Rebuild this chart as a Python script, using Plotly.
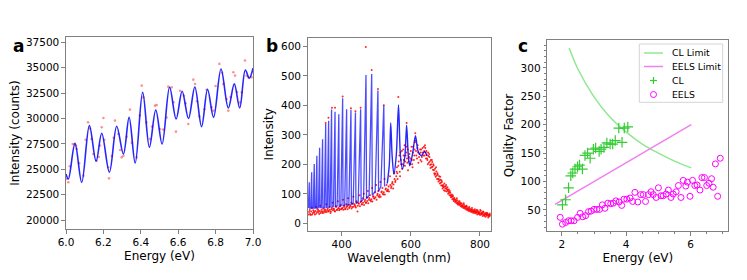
import plotly.graph_objects as go

# ---------------- Panel a data ----------------
a_fit_e = [6.0, 6.0125, 6.048, 6.084, 6.125, 6.161, 6.191, 6.232, 6.271, 6.307, 6.3375,
           6.37, 6.41, 6.446, 6.48, 6.514, 6.554, 6.589, 6.621, 6.655, 6.689, 6.725,
           6.757, 6.789, 6.829, 6.868, 6.9, 6.929, 6.959, 6.98, 7.0]
a_fit_i = [24530, 24040, 27550, 23710, 29290, 25780, 28540, 24700, 29230, 26500, 30110,
           25615, 32575, 27160, 30835, 27490, 33070, 29950, 32675, 29990, 33100, 29190,
           32870, 30110, 34870, 31030, 33400, 31030, 34775, 33955, 34940]
a_pts_e = [6.0036, 6.0125, 6.036, 6.053, 6.057, 6.093, 6.118, 6.137, 6.146, 6.164, 6.182,
           6.191, 6.200, 6.226, 6.230, 6.262, 6.280, 6.298, 6.307, 6.342, 6.378, 6.405,
           6.414, 6.449, 6.476, 6.485, 6.503, 6.538, 6.547, 6.565, 6.588, 6.610, 6.631,
           6.654, 6.681, 6.690, 6.713, 6.752, 6.779, 6.788, 6.820, 6.841, 6.859, 6.868,
           6.895, 6.904, 6.931, 6.940, 6.957, 6.975, 6.993,
           6.02, 6.045, 6.07, 6.105, 6.128, 6.175, 6.205, 6.245, 6.255, 6.29, 6.325, 6.352,
           6.395, 6.43, 6.46, 6.52, 6.575, 6.64, 6.70, 6.74, 6.80, 6.835, 6.88, 6.915, 6.965]
a_pts_i = [24040, 23720, 27490, 27330, 27000, 24370, 29625, 27980, 26500, 25850, 27330,
           29130, 30050, 25190, 24100, 29790, 28470, 26170, 26330, 30870, 26170, 33230,
           32080, 27980, 31260, 31330, 28960, 30100, 33130, 33060, 28700, 32730, 32240,
           29450, 33820, 33390, 30200, 32830, 31100, 30770, 35370, 33390, 31910, 30770,
           34550, 34220, 31580, 32570, 35700, 34060, 34060,
           25300, 27450, 25600, 27900, 29000, 26200, 27900, 26300, 28100, 26900, 28200, 27600,
           30300, 29600, 29200, 28900, 31600, 31500, 31700, 30900, 33200, 34500, 32100, 32600, 34200]

# ---------------- Panel b data ----------------
b_peak_wl = [306.5, 313.5, 321, 328.5, 336.5, 345, 354, 362.5, 371, 381, 392, 403,
             414.5, 427, 440, 455, 470.5, 487, 505, 522]
b_peak_h = [139, 173, 201, 229, 256, 285, 337, 348, 386, 378, 370, 424,
            387, 385, 376, 387, 503, 506, 450, 399]
b_peak_base = [52, 52, 52, 52, 53, 53, 54, 55, 56, 58, 58, 60,
               62, 64, 68, 73, 83, 95, 108, 125]
b_peak_left = [2.5, 2.8, 3.0, 3.2, 3.4, 3.6, 3.8, 4.0, 4.2, 4.6, 5.0, 5.2,
               5.6, 6.0, 6.6, 7.0, 7.0, 7.5, 8.0, 8.5]
b_peak_right = [0.8, 0.8, 0.8, 0.8, 0.9, 0.9, 0.9, 1.0, 1.0, 1.0, 1.1, 1.1,
                1.2, 1.3, 1.4, 1.5, 1.6, 1.7, 1.9, 2.2]
b_broad_wl = [532, 538, 542, 546, 551, 558, 564.5, 570, 576, 583, 588, 593, 597,
              605, 613.5, 621, 630.6, 636, 640, 647]
b_broad_i = [135, 200, 340, 230, 167, 230, 401, 230, 184, 230, 333, 225, 195,
             235, 297, 245, 229, 238, 243, 229]

b_pts_wl = [305, 308, 311, 314, 317, 320, 323, 326, 329, 332, 335, 338, 341, 344, 347, 350,
            353, 356, 359, 362, 365, 368, 371, 374, 377, 380, 383, 386, 389, 392, 395, 398,
            401, 404, 407, 410, 413, 416, 419, 422, 425, 428, 431, 434, 437, 440, 443, 446,
            449, 452, 455, 458, 461, 464, 467, 470, 473, 476, 479, 482, 485, 488, 491, 494,
            497, 500, 503, 506, 509, 512, 515, 518, 521, 524, 527, 530, 533, 536, 540, 543,
            546, 549, 552, 555, 558,
            306, 309, 312, 315, 318, 321, 324, 327, 330, 333, 336, 339, 342, 345, 348, 351,
            354, 357, 360, 363, 366, 369, 372, 375, 378, 381, 384, 387, 390, 393, 396, 399,
            402, 405, 408, 411, 414, 417, 420, 423, 426, 429, 432, 435, 438, 441, 444, 447,
            450, 453, 456, 459, 462, 465, 468, 471, 474, 477, 480, 483, 486, 489, 492, 495,
            498, 501, 504, 507, 510, 513, 516, 519, 522, 525, 528, 531, 534, 537, 541, 544,
            547, 550, 553, 556, 559,
            560, 562, 565, 568, 570, 572, 575, 578, 580, 583, 585, 588, 590, 592, 595, 598,
            600, 603, 605, 607, 610, 612, 615, 618, 620, 622, 625, 628, 630, 632, 635, 638,
            640, 642, 644,
            561, 564, 567, 569, 571, 574, 577, 579, 582, 584, 587, 589, 591, 594, 596, 599,
            602, 604, 606, 609, 611, 614, 616, 619, 621, 624, 627, 629, 631, 634, 636, 639,
            641, 643,
            646, 648, 650, 652, 654, 656, 658, 660, 662, 664, 666, 668, 670, 672, 674, 676,
            678, 680, 682, 684, 686, 688, 690, 692, 694, 696, 698, 700, 702, 704, 706, 708,
            710, 712, 714, 716, 718, 720, 722, 724, 726, 728, 730, 732, 734, 736, 738, 740,
            742, 744, 746, 748, 750, 752, 754, 756, 758, 760, 762, 764, 766, 768, 770, 772,
            774, 776, 778, 780, 782, 784, 786, 788, 790, 792, 794, 796, 798, 800, 802, 804,
            806, 808, 810, 812, 814, 816, 818, 820, 822, 824, 826, 828, 830,
            647, 651, 655, 659, 663, 667, 671, 675, 679, 683, 687, 691, 695, 699, 703, 707,
            711, 715, 719, 723, 727, 731, 735, 739, 743, 747, 751, 755, 759, 763, 767, 771,
            775, 779, 783, 787, 791, 795, 799, 803, 807, 811, 815, 819, 823, 827,
            645, 649, 653, 657, 661, 665, 669, 673, 677, 681, 685, 689, 693, 697, 701, 705,
            709, 713, 717, 721, 725, 729, 733, 737, 741, 745, 749, 753, 757, 761, 765, 769,
            773, 777, 781, 785, 789, 793, 797, 801, 805, 809, 813, 817, 821, 825, 829,
            470, 487, 505, 403, 564, 522, 588, 613, 372, 381, 362, 354, 455, 440, 427]
b_pts_i = [30, 45, 28, 52, 35, 40, 30, 55, 38, 45, 32, 60, 40, 35, 50, 42,
           38, 65, 45, 40, 55, 35, 48, 70, 50, 42, 58, 45, 75, 52, 48, 62,
           50, 80, 55, 48, 65, 58, 85, 52, 62, 70, 55, 90, 65, 58, 75, 40,
           68, 95, 72, 65, 85, 100, 75, 70, 88, 110, 80, 95, 75, 120, 90, 85,
           105, 130, 95, 110, 88, 140, 105, 120, 98, 150, 115, 130, 110, 125, 160, 120,
           135, 118, 170, 140, 160,
           38, 32, 40, 30, 44, 36, 42, 33, 48, 38, 42, 35, 46, 40, 36, 48,
           44, 38, 50, 42, 46, 40, 52, 44, 48, 40, 55, 46, 50, 44, 58, 48,
           52, 46, 60, 50, 55, 48, 62, 55, 58, 50, 66, 56, 62, 54, 70, 60,
           66, 58, 74, 64, 70, 62, 80, 70, 76, 68, 86, 78, 82, 74, 92, 84,
           88, 80, 100, 92, 96, 90, 108, 100, 105, 98, 118, 110, 115, 108, 130, 125,
           140, 132, 150, 145, 175,
           190, 150, 210, 175, 240, 200, 185, 250, 215, 195, 230, 260, 205, 180, 225, 200,
           245, 215, 190, 260, 230, 275, 245, 220, 265, 205, 235, 215, 250, 225, 240, 260,
           230, 255, 220,
           170, 195, 230, 160, 215, 245, 200, 230, 265, 210, 240, 220, 250, 210, 235, 220,
           260, 200, 240, 215, 250, 280, 230, 255, 240, 225, 250, 240, 210, 255, 230, 245,
           265, 240,
           232, 215, 240, 205, 225, 198, 215, 190, 208, 182, 196, 170, 185, 158, 176, 150,
           165, 142, 160, 135, 148, 128, 140, 118, 130, 112, 125, 118, 130, 108, 122, 100,
           115, 95, 104, 88, 98, 82, 92, 76, 86, 72, 80, 68, 78, 64, 74, 62,
           70, 58, 68, 55, 64, 52, 62, 50, 58, 47, 56, 44, 52, 42, 50, 40,
           48, 38, 46, 36, 44, 35, 42, 34, 45, 30, 40, 33, 38, 28, 42, 30,
           36, 25, 38, 28, 34, 22, 36, 26, 32, 20, 30, 24, 28,
           220, 228, 210, 200, 192, 180, 168, 162, 150, 145, 138, 128, 122, 110, 118, 112,
           104, 95, 90, 84, 80, 74, 70, 66, 64, 60, 57, 55, 52, 50, 47, 45,
           43, 41, 40, 38, 37, 36, 34, 33, 32, 31, 30, 29, 28, 27,
           245, 200, 235, 188, 215, 200, 165, 190, 170, 150, 158, 145, 125, 135, 125, 115,
           108, 110, 92, 95, 82, 76, 85, 68, 75, 66, 60, 68, 56, 60, 48, 55,
           45, 52, 42, 48, 40, 44, 32, 45, 35, 40, 26, 32, 35, 25, 33,
           598, 520, 455, 430, 428, 400, 340, 305, 392, 392, 358, 340, 392, 380, 390]

# ---------------- Panel c data ----------------
c_cl_lim_e = [2.23, 2.5, 3.0, 3.5, 4.0, 4.5, 5.0, 5.5, 6.02]
c_cl_lim_q = [335, 298, 249, 213, 187, 166, 150, 136, 124]
c_eels_lim_e = [1.79, 6.02]
c_eels_lim_q = [60, 200]
c_cl_e = [2.02, 2.12, 2.21, 2.28, 2.34, 2.41, 2.49, 2.55, 2.64, 2.72, 2.80, 2.88, 2.98,
          3.05, 3.16, 3.22, 3.31, 3.40, 3.50, 3.58, 3.66, 3.77, 3.87, 3.94, 4.05]
c_cl_q = [59, 68, 89, 110, 115, 122, 126, 129, 122, 146, 150, 141, 157,
          159, 153, 157, 160, 168, 166, 166, 172, 194, 169, 194, 196]
c_eels_e = [1.95, 2.02, 2.12, 2.21, 2.29, 2.38, 2.49, 2.57, 2.65, 2.74, 2.83, 2.91, 3.0,
            3.09, 3.17, 3.26, 3.34, 3.43, 3.52, 3.6, 3.68, 3.78, 3.86, 3.93, 4.02, 4.12,
            4.2, 4.27, 4.36, 4.45, 4.53, 4.6, 4.69, 4.77, 4.84, 4.93, 5.0, 5.08, 5.15,
            5.24, 5.31, 5.39, 5.46, 5.55, 5.62, 5.7, 5.77, 5.85, 5.9, 5.98, 6.06, 6.13,
            6.2, 6.29, 6.35, 6.43, 6.5, 6.57, 6.65, 6.7, 6.77, 6.84, 6.92]
c_eels_q = [37, 25, 28, 31, 31, 31, 37, 44, 38, 40, 47, 48, 51,
            51, 51, 59, 53, 62, 61, 62, 66, 64, 58, 69, 69, 71,
            65, 81, 64, 77, 77, 65, 77, 82, 77, 72, 89, 75, 75,
            78, 85, 72, 78, 82, 93, 72, 102, 92, 99, 74, 102, 93,
            94, 85, 107, 107, 93, 97, 105, 90, 131, 74, 141]

legend_labels = ["CL Limit", "EELS Limit", "CL", "EELS"]

FONT = "DejaVu Sans"
SPINE = "#808080"
GREEN_LINE = "#90e890"
PINK_LINE = "#f080f0"
GREEN_MK = "#33cc33"
MAGENTA = "#ff00ff"

W, H = 747, 280
OX, OY = 8, 9  # page offset of the plot inside the browser window


def px(x):
    return (x - OX) / W


def py(y):
    return 1 - (y - OY) / H


def dom_x(a, b):
    return [px(a), px(b)]


def dom_y(top, bottom):
    return [py(bottom), py(top)]


fig = go.Figure()

# Panel a
fig.add_trace(go.Scatter(x=a_pts_e, y=a_pts_i, mode="markers", xaxis="x", yaxis="y",
                         marker=dict(color="rgba(255,40,40,0.5)", size=2.6), showlegend=False))
fig.add_trace(go.Scatter(x=a_fit_e, y=a_fit_i, mode="lines", xaxis="x", yaxis="y",
                         line=dict(color="rgba(0,0,255,0.85)", width=1.6, shape="spline", smoothing=1.0),
                         showlegend=False))

# Panel b
bx, by = [], []
for wl, h, base, hl, hr in zip(b_peak_wl, b_peak_h, b_peak_base, b_peak_left, b_peak_right):
    bx += [wl - hl, wl, wl + hr]
    by += [base, h, base]
fig.add_trace(go.Scatter(x=b_pts_wl, y=b_pts_i, mode="markers", xaxis="x2", yaxis="y2",
                         marker=dict(color="rgba(255,0,0,0.85)", size=2.0), showlegend=False))
fig.add_trace(go.Scatter(x=bx, y=by, mode="lines", xaxis="x2", yaxis="y2",
                         line=dict(color="rgba(0,0,255,0.7)", width=1.3), showlegend=False))
fig.add_trace(go.Scatter(x=b_broad_wl, y=b_broad_i, mode="lines", xaxis="x2", yaxis="y2",
                         line=dict(color="rgba(0,0,255,0.85)", width=1.4, shape="spline", smoothing=0.8),
                         showlegend=False))

# Panel c
fig.add_trace(go.Scatter(x=c_cl_lim_e, y=c_cl_lim_q, mode="lines", xaxis="x3", yaxis="y3",
                         name=legend_labels[0], showlegend=False,
                         line=dict(color=GREEN_LINE, width=1.5, shape="spline")))
fig.add_trace(go.Scatter(x=c_eels_lim_e, y=c_eels_lim_q, mode="lines", xaxis="x3", yaxis="y3",
                         name=legend_labels[1], showlegend=False, line=dict(color=PINK_LINE, width=1.5)))
fig.add_trace(go.Scatter(x=c_cl_e, y=c_cl_q, mode="markers", xaxis="x3", yaxis="y3", name=legend_labels[2],
                         showlegend=False,
                         marker=dict(symbol="cross-thin", size=7.5, line=dict(color=GREEN_MK, width=1.2),
                                     color=GREEN_MK)))
fig.add_trace(go.Scatter(x=c_eels_e, y=c_eels_q, mode="markers", xaxis="x3", yaxis="y3", name=legend_labels[3],
                         showlegend=False,
                         marker=dict(symbol="circle-open", size=6, color=MAGENTA,
                                     line=dict(color=MAGENTA, width=1))))

axis_common = dict(showline=True, linecolor=SPINE, linewidth=1.2, mirror=True, ticks="outside",
                   ticklen=3.5, tickcolor=SPINE, tickwidth=1, showgrid=False, zeroline=False,
                   automargin=False, tickfont=dict(family=FONT, size=10.5, color="black"))
title_font = dict(family=FONT, size=12, color="black")

# Compact legend box for panel c (drawn as paper-positioned shapes + text)
shapes = [
    dict(type="rect", xref="paper", yref="paper", x0=px(639.3), x1=px(722.7), y0=py(103.3), y1=py(45),
         line=dict(color="#d4d4d4", width=1), fillcolor="white", layer="above"),
    dict(type="line", xref="paper", yref="paper", x0=px(644), x1=px(663), y0=py(54), y1=py(54),
         line=dict(color=GREEN_LINE, width=1.5), layer="above"),
    dict(type="line", xref="paper", yref="paper", x0=px(644), x1=px(663), y0=py(67.5), y1=py(67.5),
         line=dict(color=PINK_LINE, width=1.5), layer="above"),
    dict(type="line", xref="paper", yref="paper", x0=px(650), x1=px(657), y0=py(81.5), y1=py(81.5),
         line=dict(color=GREEN_MK, width=1.2), layer="above"),
    dict(type="line", xref="paper", yref="paper", x0=px(653.5), x1=px(653.5), y0=py(78), y1=py(85),
         line=dict(color=GREEN_MK, width=1.2), layer="above"),
    dict(type="circle", xref="paper", yref="paper", x0=px(650.5), x1=px(656.5), y0=py(98.5), y1=py(92.5),
         line=dict(color=MAGENTA, width=1), layer="above"),
]

annotations = [
    dict(text="<b>a</b>", x=px(18), y=py(47), xref="paper", yref="paper", showarrow=False,
         xanchor="center", yanchor="middle", font=dict(family=FONT, size=17, color="black")),
    dict(text="<b>b</b>", x=px(272), y=py(47), xref="paper", yref="paper", showarrow=False,
         xanchor="center", yanchor="middle", font=dict(family=FONT, size=17, color="black")),
    dict(text="<b>c</b>", x=px(523), y=py(47), xref="paper", yref="paper", showarrow=False,
         xanchor="center", yanchor="middle", font=dict(family=FONT, size=17, color="black")),
]
for lab, ly in zip(legend_labels, [54, 67.5, 81.5, 95.5]):
    annotations.append(dict(text=lab, x=px(670), y=py(ly), xref="paper", yref="paper", showarrow=False,
                            xanchor="left", yanchor="middle", font=dict(family=FONT, size=9.3, color="black")))

fig.update_layout(
    width=W, height=H, margin=dict(l=0, r=0, t=0, b=0, autoexpand=False),
    paper_bgcolor="white", plot_bgcolor="white", showlegend=False,
    xaxis=dict(domain=dom_x(66, 253), range=[6.0, 7.0], tickvals=[6.0, 6.2, 6.4, 6.6, 6.8, 7.0],
               ticktext=["6.0", "6.2", "6.4", "6.6", "6.8", "7.0"], anchor="y",
               title=dict(text="Energy (eV)", font=title_font, standoff=4), **axis_common),
    yaxis=dict(domain=dom_y(38, 230), range=[19115, 38020], tickvals=list(range(20000, 37501, 2500)),
               tickformat="d", anchor="x",
               title=dict(text="Intensity (counts)", font=title_font, standoff=4), **axis_common),
    xaxis2=dict(domain=dom_x(307.7, 490.7), range=[302, 831], tickvals=[400, 600, 800], anchor="y2",
                title=dict(text="Wavelength (nm)", font=title_font, standoff=4), **axis_common),
    yaxis2=dict(domain=dom_y(38.5, 232), range=[-26, 630], tickvals=[0, 100, 200, 300, 400, 500, 600],
                anchor="x2", title=dict(text="Intensity", font=title_font, standoff=4), **axis_common),
    xaxis3=dict(domain=dom_x(547.3, 728.3), range=[1.55, 7.17], tickvals=[2, 4, 6], anchor="y3",
                minor=dict(dtick=0.5, ticklen=2, tickcolor=SPINE, ticks="outside"),
                title=dict(text="Energy (eV)", font=title_font, standoff=4), **axis_common),
    yaxis3=dict(domain=dom_y(41, 232), range=[13, 349], tickvals=[50, 100, 150, 200, 250, 300], anchor="x3",
                minor=dict(dtick=10, ticklen=2, tickcolor=SPINE, ticks="outside"),
                title=dict(text="Quality Factor", font=title_font, standoff=4), **axis_common),
    shapes=shapes,
    annotations=annotations,
)

fig.write_html("out.html")
